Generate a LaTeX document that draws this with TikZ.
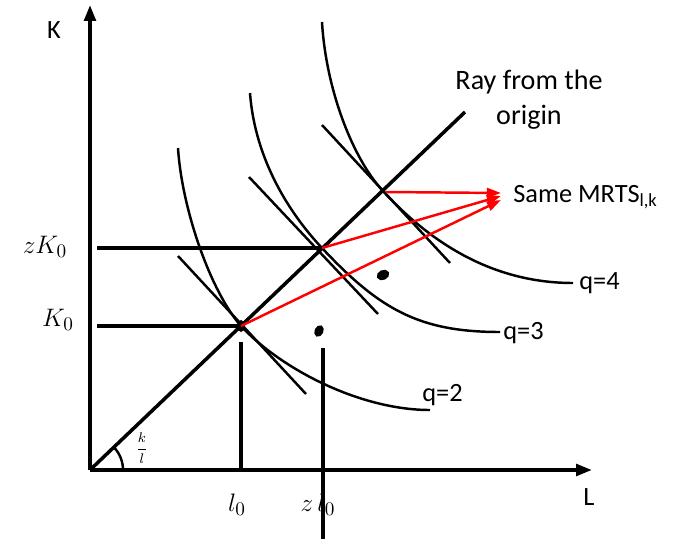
\documentclass[tikz,border=0pt]{standalone}
\usepackage{amsmath}
\usepackage{fontspec}
\setmainfont{Carlito}
\usetikzlibrary{arrows.meta,positioning,calc}

\begin{document}
\begin{tikzpicture}[x=0.02cm,y=0.02cm,
	axis/.style={line width=2.1pt,-{Triangle[length=9pt,width=6.5pt]}},
	guide/.style={line width=2pt},
	isoquant/.style={line width=1.4pt},
	tangent/.style={line width=1.4pt},
	mrtsarrow/.style={red,line width=1.4pt,-{Triangle[length=8pt,width=5.5pt]}},
	lbl/.style={font=\fontsize{15}{18}\selectfont,inner sep=0pt},
	hand/.style={font=\fontsize{15}{18}\selectfont,inner sep=0pt}]
	\useasboundingbox (-90,-69) rectangle (593,470);
	
	% origin and points on the ray
	\coordinate (O) at (0,0);
	\coordinate (R) at (375,358);
	\coordinate (A) at (151,144);
	\coordinate (B) at (232,222);
	\coordinate (C) at (293,279);
	
	% axes
	\draw[axis] (O) -- (0,465) coordinate (ytop);
	\draw[axis] (O) -- (502,0) coordinate (xend);
	\node[lbl] (Klab) at (-36,440) {K};
	\node[lbl] (Llab) at (499,-27) {L};
	
	% ray from the origin
	\draw[guide] (O) -- (R);
	\node[lbl,align=center,font=\fontsize{16}{20}\selectfont] (raytxt) at (439,370) {Ray from the\\origin};
	\draw[isoquant] ($(O)+(33,0)$) arc[start angle=0,end angle=43.7,radius=33];
	\node[font=\footnotesize] (ratio) at (52,22) {$\dfrac{k}{l}$};
	
	% levels of capital and labour
	\coordinate (kA) at (7,144);
	\coordinate (kB) at (7,222);
	\draw[guide] (kA) -- (A);
	\draw[guide] (kB) -- (B);
	\draw[guide] ($(A)+(0,-16)$) -- (A |- O);
	\coordinate (zltop) at (233,122);
	\coordinate (zlbot) at (233,-69);
	\draw[guide] (zltop) -- (zlbot);
	\node[hand] (kzero) at (-32,150) {$K_0$};
	\node[hand] (zkzero) at (-45,223) {$zK_0$};
	\node[hand] (lzero) at (147,-35) {$l_0$};
	\node[hand] (zlzero) at (228,-35) {$z\,l_0$};
	
	% isoquants
	\draw[isoquant] (88,322) .. controls (92,260) and (121,178) .. (A)
		.. controls (191,101) and (270,60) .. (340,60);
	\draw[isoquant] (160,377) .. controls (165,310) and (200,256) .. (B)
		.. controls (290,160) and (330,138) .. (410,138);
	\draw[isoquant] (232,448) .. controls (236,380) and (263,311) .. (C)
		.. controls (338,230) and (400,187) .. (483,187);
	\node[lbl,anchor=west] (q2) at (332,75) {q=2};
	\node[lbl,anchor=west] (q3) at (413,137) {q=3};
	\node[lbl,anchor=west] (q4) at (489,187) {q=4};
	
	% tangents at the ray
	\draw[tangent] ($(A)+(-63,70)$) -- ($(A)+(65,-68)$);
	\draw[tangent] ($(B)+(-73,71)$) -- ($(B)+(56,-66)$);
	\draw[tangent] ($(C)+(-61,66)$) -- ($(C)+(67,-72)$);
	
	% marks
	\fill (A) ellipse[x radius=4,y radius=6];
	\filldraw[line width=1.6pt] (293,195) circle[x radius=5,y radius=3.5,rotate=25];
	\filldraw[line width=1.6pt] (229,139) circle[x radius=3,y radius=4.5,rotate=-25];
	
	% same MRTS
	\node[lbl,anchor=west] (mrts) at (423,273) {Same MRTS\textsubscript{l,k}};
	\coordinate (tip) at ($(mrts.west)+(-12,0)$);
	\draw[mrtsarrow] ($(C)+(3,-1)$) -- ($(tip)+(0,4)$);
	\draw[mrtsarrow] (B) -- ($(tip)+(0,1)$);
	\draw[mrtsarrow] (A) -- ($(tip)+(0,-3)$);
\end{tikzpicture}
\end{document}
